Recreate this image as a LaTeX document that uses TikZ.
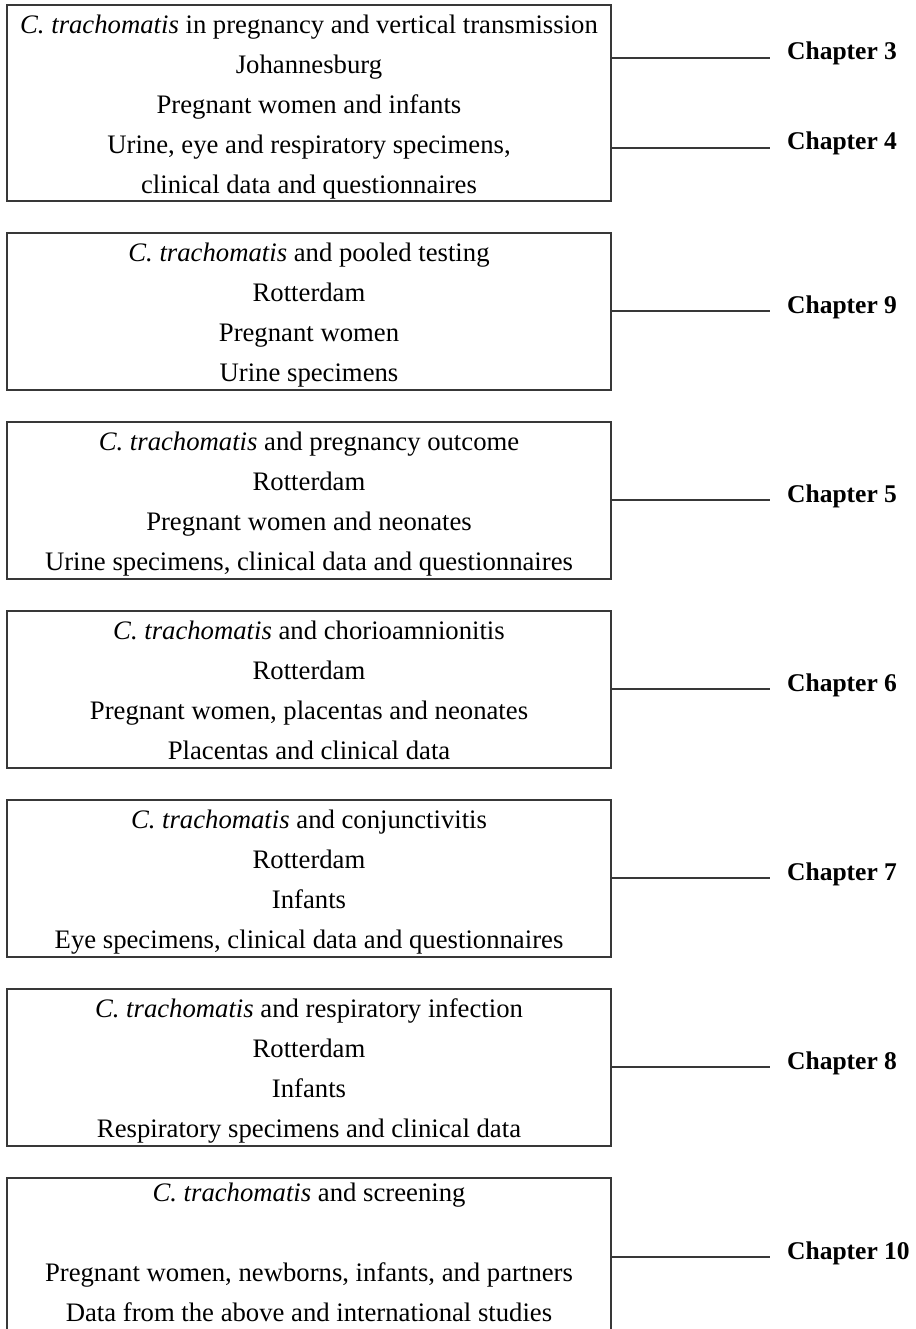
\documentclass[tikz,border=0pt]{standalone}
\usepackage{fontspec}
\setmainfont{Liberation Serif}
\begin{document}
\begin{tikzpicture}[x=1pt,y=1pt,
  boxstyle/.style={draw=black!78,line width=1.3pt,rectangle,minimum width=604pt,inner sep=0pt},
  bodytext/.style={align=center,inner sep=0pt,anchor=north,font=\fontsize{26.7pt}{40pt}\selectfont},
  chaplabel/.style={anchor=base west,inner sep=0pt,font=\fontsize{25.5pt}{30pt}\selectfont\bfseries},
  conn/.style={draw=black!78,line width=1.3pt}]
\clip (0,0) rectangle (915,-1329);
% boxes
\node[boxstyle,minimum height=196pt] (b1) at (309,-103) {};
\node[boxstyle,minimum height=157pt] (b2) at (309,-311.5) {};
\node[boxstyle,minimum height=157pt] (b3) at (309,-500.5) {};
\node[boxstyle,minimum height=157pt] (b4) at (309,-689.5) {};
\node[boxstyle,minimum height=157pt] (b5) at (309,-878.5) {};
\node[boxstyle,minimum height=157pt] (b6) at (309,-1067.5) {};
\node[boxstyle,minimum height=157pt] (b7) at (309,-1256.5) {};
% texts
\node[bodytext] (t1) at ([yshift=-10pt]b1.north) {\textit{C. trachomatis} in pregnancy and vertical transmission\\Johannesburg\\Pregnant women and infants\\Urine, eye and respiratory specimens,\\clinical data and questionnaires};
\node[bodytext] (t2) at ([yshift=-10pt]b2.north) {\textit{C. trachomatis} and pooled testing\\Rotterdam\\Pregnant women\\Urine specimens};
\node[bodytext] (t3) at ([yshift=-10pt]b3.north) {\textit{C. trachomatis} and pregnancy outcome\\Rotterdam\\Pregnant women and neonates\\Urine specimens, clinical data and questionnaires};
\node[bodytext] (t4) at ([yshift=-10pt]b4.north) {\textit{C. trachomatis} and chorioamnionitis\\Rotterdam\\Pregnant women, placentas and neonates\\Placentas and clinical data};
\node[bodytext] (t5) at ([yshift=-10pt]b5.north) {\textit{C. trachomatis} and conjunctivitis\\Rotterdam\\Infants\\Eye specimens, clinical data and questionnaires};
\node[bodytext] (t6) at ([yshift=-10pt]b6.north) {\textit{C. trachomatis} and respiratory infection\\Rotterdam\\Infants\\Respiratory specimens and clinical data};
\node[bodytext] (t7) at ([yshift=-5pt]b7.north) {\textit{C. trachomatis} and screening\\\mbox{}\\Pregnant women, newborns, infants, and partners\\Data from the above and international studies};
% chapter labels
\node[chaplabel] (c3) at (787,-60) {Chapter 3};
\node[chaplabel] (c4) at (787,-150) {Chapter 4};
\node[chaplabel] (c9) at (787,-313) {Chapter 9};
\node[chaplabel] (c5) at (787,-502) {Chapter 5};
\node[chaplabel] (c6) at (787,-691) {Chapter 6};
\node[chaplabel] (c7) at (787,-880) {Chapter 7};
\node[chaplabel] (c8) at (787,-1069) {Chapter 8};
\node[chaplabel] (c10) at (787,-1259) {Chapter 10};
% connectors
\draw[conn] ([yshift=2pt]b1.east |- c3.base west) -- ([xshift=-17pt,yshift=2pt]c3.base west);
\draw[conn] ([yshift=2pt]b1.east |- c4.base west) -- ([xshift=-17pt,yshift=2pt]c4.base west);
\draw[conn] ([yshift=2pt]b2.east |- c9.base west) -- ([xshift=-17pt,yshift=2pt]c9.base west);
\draw[conn] ([yshift=2pt]b3.east |- c5.base west) -- ([xshift=-17pt,yshift=2pt]c5.base west);
\draw[conn] ([yshift=2pt]b4.east |- c6.base west) -- ([xshift=-17pt,yshift=2pt]c6.base west);
\draw[conn] ([yshift=2pt]b5.east |- c7.base west) -- ([xshift=-17pt,yshift=2pt]c7.base west);
\draw[conn] ([yshift=2pt]b6.east |- c8.base west) -- ([xshift=-17pt,yshift=2pt]c8.base west);
\draw[conn] ([yshift=2pt]b7.east |- c10.base west) -- ([xshift=-17pt,yshift=2pt]c10.base west);
\end{tikzpicture}
\end{document}
